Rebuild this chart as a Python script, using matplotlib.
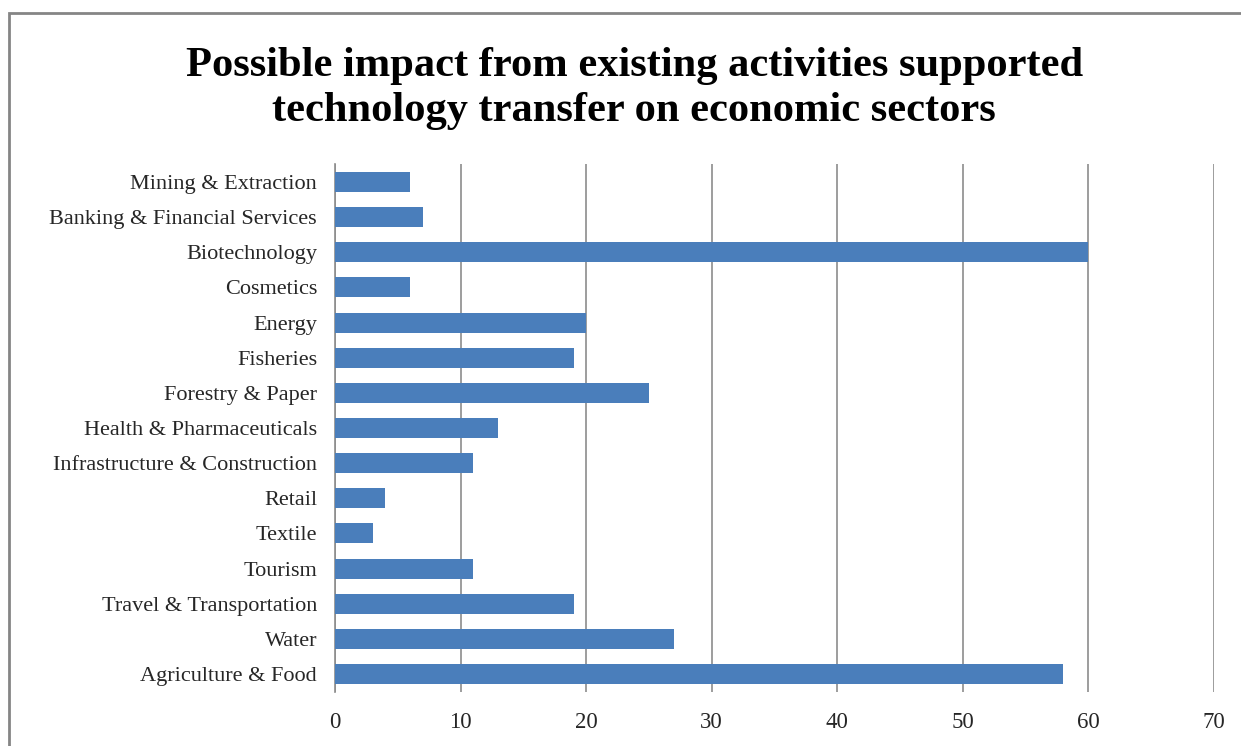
import matplotlib.pyplot as plt
from matplotlib.patches import Rectangle

# Sectors and counts, top to bottom as drawn
sectors = ['Mining & Extraction', 'Banking & Financial Services', 'Biotechnology',
           'Cosmetics', 'Energy', 'Fisheries', 'Forestry & Paper',
           'Health & Pharmaceuticals', 'Infrastructure & Construction', 'Retail',
           'Textile', 'Tourism', 'Travel & Transportation', 'Water',
           'Agriculture & Food']
counts = [6, 7, 60, 6, 20, 19, 25, 13, 11, 4, 3, 11, 19, 27, 58]
xticks = [0, 10, 20, 30, 40, 50, 60, 70]

plt.rcParams['font.family'] = ['Liberation Serif', 'DejaVu Serif']

fig = plt.figure(figsize=(12.41, 7.46), dpi=100)
ax = fig.add_axes([0.27, 0.073, 0.708, 0.7065])

# chart frame (runs off the right and bottom edges)
fig.patches.append(Rectangle((9 / 1241, -0.05), 1.2, 1 - 13 / 746 + 0.05,
                             transform=fig.transFigure, fill=False,
                             edgecolor='#858585', linewidth=2))

ypos = list(range(len(sectors)))
ax.barh(ypos, counts, height=0.57, color='#4a7ebb', zorder=3)
ax.set_yticks(ypos)
ax.set_yticklabels(sectors, fontsize=16, color='#262626')
ax.set_ylim(len(sectors) - 0.5, -0.5)

ax.set_xlim(0, 70)
ax.set_xticks(xticks)
ax.set_xticklabels([str(v) for v in xticks], fontsize=16.5, color='#262626')
ax.grid(axis='x', color='#8c8c8c', linewidth=1.2, zorder=0)
ax.tick_params(axis='both', length=0)
ax.tick_params(axis='x', pad=15)
ax.tick_params(axis='y', pad=13)

for side in ['top', 'right', 'bottom']:
    ax.spines[side].set_visible(False)
ax.spines['left'].set_color('#8c8c8c')
ax.spines['left'].set_linewidth(1.2)

fig.text(0.511, 0.881, 'Possible impact from existing activities supported\n'
         'technology transfer on economic sectors',
         ha='center', va='center', fontsize=30.6, fontweight='bold',
         linespacing=1.25)

fig.savefig('out.png', dpi=100)
